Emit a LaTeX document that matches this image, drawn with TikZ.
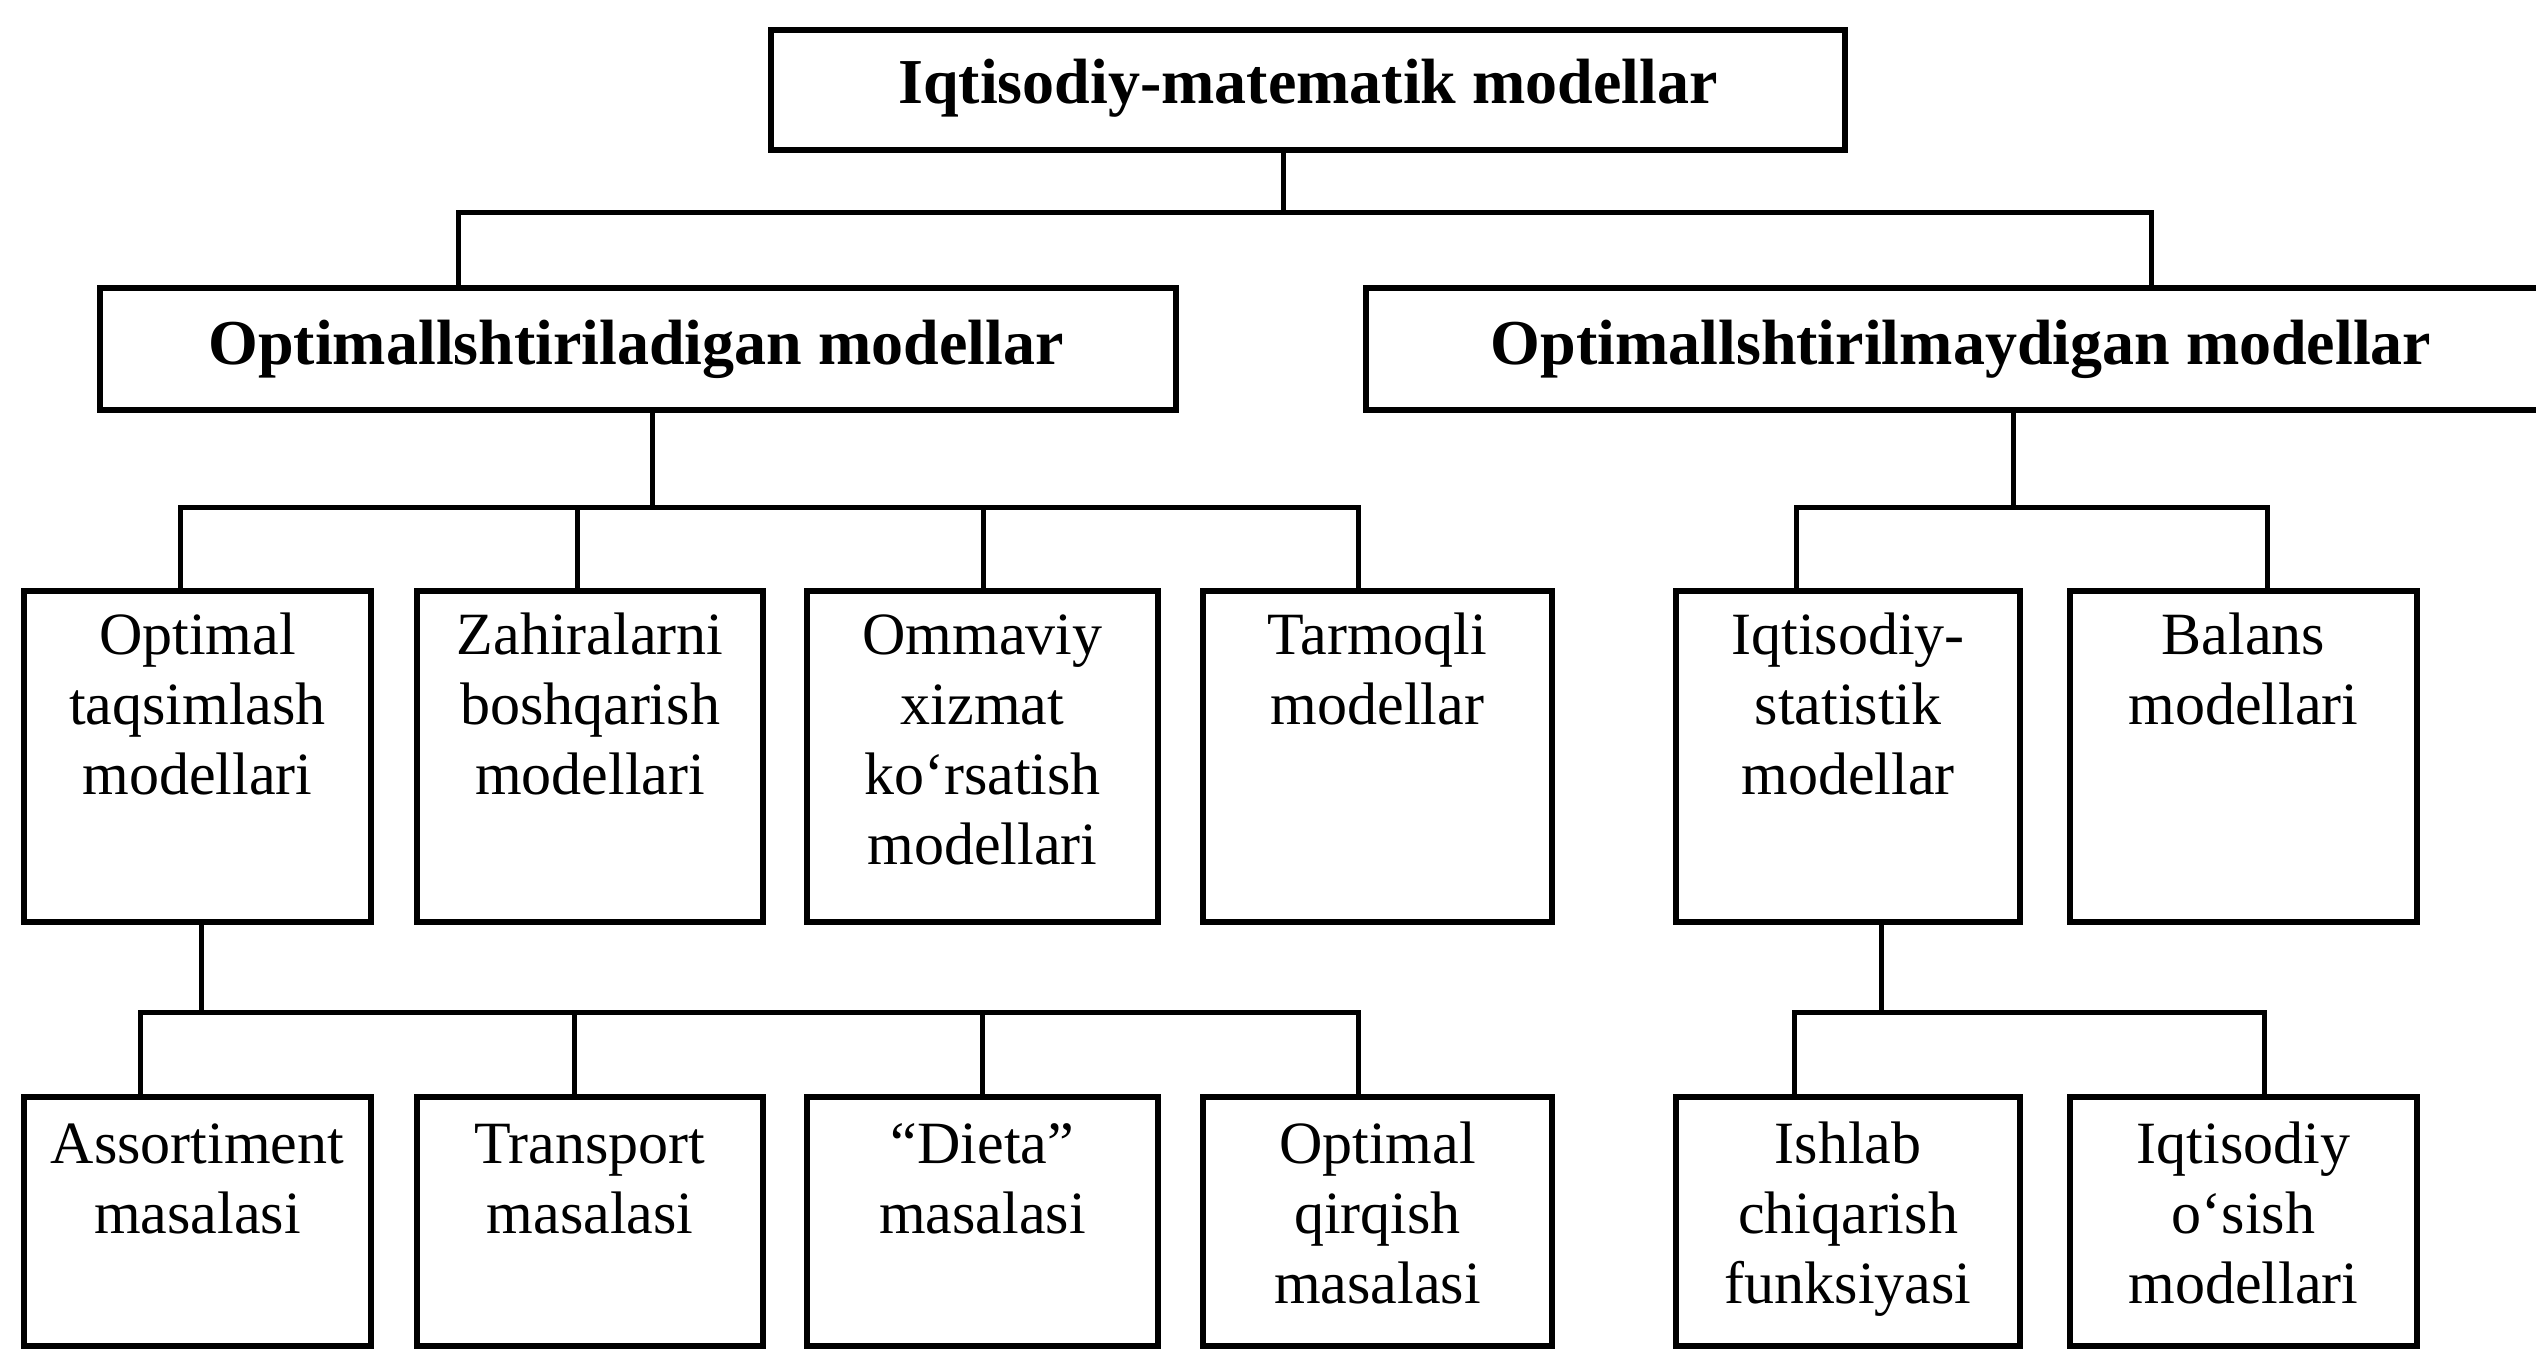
\documentclass[tikz,border=0pt]{standalone}
\usepackage{fontspec}
\setmainfont{Liberation Serif}
\newcommand\mkbox[5]{\node[box, minimum width={(#3-#2)*0.25pt}, minimum height={(#5-#4)*0.25pt}] (#1) at ({(#2+#3)/2},{(#4+#5)/2}) {};}
\tikzset{
  box/.style={draw, rectangle, line width=1.7pt, inner sep=0pt},
  conn/.style={line width=1.25pt, line cap=rect},
  head/.style={font=\fontsize{16}{19}\selectfont\bfseries, inner sep=0pt, anchor=base},
  lbl/.style={font=\fontsize{15}{17.5}\selectfont, align=center, inner sep=0pt, anchor=north}
}
\newcommand\fl{\rule{0pt}{14pt}}
\begin{document}
\begin{tikzpicture}[x=0.25pt, y=-0.25pt]
\useasboundingbox (0,0) rectangle (2536,1349);
\clip (0,0) rectangle (2536,1349);
\fill[white] (0,0) rectangle (2536,1349);
% boxes
\mkbox{top}{771}{1845}{30}{150}
\mkbox{L}{100}{1176}{288}{410}
\mkbox{R}{1366}{2560}{288}{410}
\mkbox{c1}{24}{371}{591}{922}
\mkbox{c2}{417}{763}{591}{922}
\mkbox{c3}{807}{1158}{591}{922}
\mkbox{c4}{1203}{1552}{591}{922}
\mkbox{c5}{1676}{2020}{591}{922}
\mkbox{c6}{2070}{2417}{591}{922}
\mkbox{g1}{24}{371}{1097}{1346}
\mkbox{g2}{417}{763}{1097}{1346}
\mkbox{g3}{807}{1158}{1097}{1346}
\mkbox{g4}{1203}{1552}{1097}{1346}
\mkbox{g5}{1676}{2020}{1097}{1346}
\mkbox{g6}{2070}{2417}{1097}{1346}
% texts
\node[head] (topt) at (1308,103) {Iqtisodiy-matematik modellar};
\node[head] (Lt) at (636,364) {Optimallshtiriladigan modellar};
\node[head] (Rt) at (1961,364) {Optimallshtirilmaydigan modellar};
\node[lbl] (c1t) at (197.5,598) {\fl Optimal\\taqsimlash\\modellari};
\node[lbl] (c2t) at (590,598) {\fl Zahiralarni\\boshqarish\\modellari};
\node[lbl] (c3t) at (982.5,598) {\fl Ommaviy\\xizmat\\ko‘rsatish\\modellari};
\node[lbl] (c4t) at (1377.5,598) {\fl Tarmoqli\\modellar};
\node[lbl] (c5t) at (1848,598) {\fl Iqtisodiy-\\statistik\\modellar};
\node[lbl] (c6t) at (2243.5,598) {\fl Balans\\modellari};
\node[lbl] (g1t) at (197.5,1107) {\fl Assortiment\\masalasi};
\node[lbl] (g2t) at (590,1107) {\fl Transport\\masalasi};
\node[lbl] (g3t) at (982.5,1107) {\fl “Dieta”\\masalasi};
\node[lbl] (g4t) at (1377.5,1107) {\fl Optimal\\qirqish\\masalasi};
\node[lbl] (g5t) at (1848,1107) {\fl Ishlab\\chiqarish\\funksiyasi};
\node[lbl] (g6t) at (2243.5,1107) {\fl Iqtisodiy\\o‘sish\\modellari};
% junctions
\coordinate (a0) at (1283,212); \coordinate (a1) at (458,212); \coordinate (a2) at (2151,212);
\coordinate (b0) at (652,507); \coordinate (b1) at (180,507); \coordinate (b2) at (577,507);
\coordinate (b3) at (983,507); \coordinate (b4) at (1358,507);
\coordinate (d0) at (2013,507); \coordinate (d1) at (1796,507); \coordinate (d2) at (2267,507);
\coordinate (e0) at (201,1012); \coordinate (e1) at (140,1012); \coordinate (e2) at (574,1012);
\coordinate (e3) at (982,1012); \coordinate (e4) at (1358,1012);
\coordinate (f0) at (1881,1012); \coordinate (f1) at (1794,1012); \coordinate (f2) at (2264,1012);
% connectors
\draw[conn] (top.south -| a0) -- (a0);
\draw[conn] (a1) -- (a2);
\draw[conn] (a1) -- (a1 |- L.north);
\draw[conn] (a2) -- (a2 |- R.north);
\draw[conn] (L.south -| b0) -- (b0);
\draw[conn] (b1) -- (b4);
\draw[conn] (b1) -- (b1 |- c1.north);
\draw[conn] (b2) -- (b2 |- c2.north);
\draw[conn] (b3) -- (b3 |- c3.north);
\draw[conn] (b4) -- (b4 |- c4.north);
\draw[conn] (R.south -| d0) -- (d0);
\draw[conn] (d1) -- (d2);
\draw[conn] (d1) -- (d1 |- c5.north);
\draw[conn] (d2) -- (d2 |- c6.north);
\draw[conn] (c1.south -| e0) -- (e0);
\draw[conn] (e1) -- (e4);
\draw[conn] (e1) -- (e1 |- g1.north);
\draw[conn] (e2) -- (e2 |- g2.north);
\draw[conn] (e3) -- (e3 |- g3.north);
\draw[conn] (e4) -- (e4 |- g4.north);
\draw[conn] (c5.south -| f0) -- (f0);
\draw[conn] (f1) -- (f2);
\draw[conn] (f1) -- (f1 |- g5.north);
\draw[conn] (f2) -- (f2 |- g6.north);
\end{tikzpicture}
\end{document}
